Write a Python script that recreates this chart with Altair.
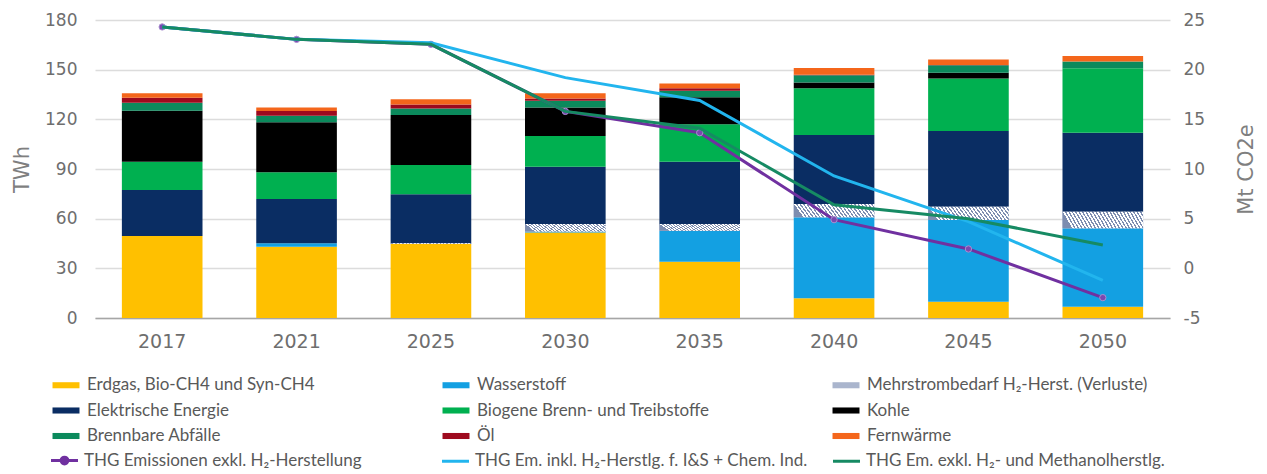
import altair as alt
import pandas as pd

years = ["2017", "2021", "2025", "2030", "2035", "2040", "2045", "2050"]

categories = [
    "Erdgas, Bio-CH4 und Syn-CH4",
    "Wasserstoff",
    "Mehrstrombedarf H₂-Herst. (Verluste)",
    "Elektrische Energie",
    "Biogene Brenn- und Treibstoffe",
    "Kohle",
    "Brennbare Abfälle",
    "Öl",
    "Fernwärme",
]
cat_colors = ["#ffc000", "#13a0e2", "#aab5cd", "#0a2d63", "#00b050",
              "#000000", "#0b8a5c", "#9e0a1e", "#f4661b"]

erdgas = [49.5, 43.1, 44.7, 51.7, 34.0, 11.9, 9.8, 6.8]
wasserstoff = [0.0, 2.0, 0.0, 0.6, 18.7, 48.9, 49.4, 47.4]
verluste = [0.0, 0.0, 0.4, 4.5, 4.1, 8.0, 8.0, 10.0]
elektrisch = [27.8, 26.8, 29.6, 34.6, 37.6, 41.7, 45.7, 47.7]
biogen = [17.1, 16.1, 17.7, 18.5, 22.7, 28.2, 31.8, 39.0]
kohle = [30.8, 30.2, 30.2, 17.3, 16.2, 3.6, 3.5, 0.0]
abfaelle = [4.8, 4.0, 4.0, 4.0, 4.0, 4.4, 4.4, 4.0]
oel = [3.0, 2.8, 2.4, 1.4, 1.4, 0.2, 0.2, 0.0]
fernwaerme = [2.7, 2.2, 3.2, 3.1, 3.0, 4.1, 3.4, 3.4]

series = [
    "THG Emissionen exkl. H₂-Herstellung",
    "THG Em. inkl. H₂-Herstlg. f. I&S + Chem. Ind.",
    "THG Em. exkl. H₂- und Methanolherstlg.",
]
series_colors = ["#7030a0", "#22b5ee", "#168a63"]
thg_exkl = [24.3, 23.05, 22.55, 15.8, 13.65, 4.9, 1.95, -2.95]
thg_inkl = [24.3, 23.05, 22.7, 19.2, 16.9, 9.3, 4.7, -1.2]
thg_methanol = [24.3, 23.05, 22.55, 15.8, 14.1, 6.4, 5.0, 2.35]

cat_values = [erdgas, wasserstoff, verluste, elektrisch, biogen, kohle,
              abfaelle, oel, fernwaerme]
rows = []
for ci, (name, vals) in enumerate(zip(categories, cat_values)):
    for y, v in zip(years, vals):
        rows.append({"Jahr": y, "Kategorie": name, "Wert": v, "order": ci})
bars_df = pd.DataFrame(rows)

lrows = []
for name, vals in zip(series, [thg_exkl, thg_inkl, thg_methanol]):
    for y, v in zip(years, vals):
        lrows.append({"Jahr": y, "Serie": name, "Wert": v})
lines_df = pd.DataFrame(lrows)

GREY = "#6e6e6e"
TICK_FONT = "DejaVu Sans"
LEG_FONT = "Lato"

x_enc = alt.X(
    "Jahr:N", sort=years,
    scale=alt.Scale(paddingInner=0.4, paddingOuter=0.2),
    axis=alt.Axis(title=None, labelAngle=0, ticks=False, domain=True,
                  domainColor="#a6a6a6", domainWidth=1.5, grid=False,
                  labelFont=TICK_FONT, labelFontSize=19, labelColor=GREY,
                  labelPadding=14),
)

left_axis = alt.Axis(
    orient="left", values=[0, 30, 60, 90, 120, 150, 180], grid=True,
    gridColor="#dcdcdc", gridWidth=1.5, domain=False, ticks=False,
    labelFont=TICK_FONT, labelFontSize=17, labelColor=GREY, labelPadding=18,
    title="TWh", titleFont=TICK_FONT, titleFontSize=21,
    titleFontWeight="normal", titleColor="#7f7f7f", titlePadding=12,
)
right_axis = alt.Axis(
    orient="right", values=[-5, 0, 5, 10, 15, 20, 25], grid=False,
    domain=False, ticks=False, labelExpr="datum.value + ''",
    labelFont=TICK_FONT, labelFontSize=17, labelColor=GREY, labelPadding=13,
    title="Mt CO2e", titleFont=TICK_FONT, titleFontSize=21, titleAngle=270,
    titleFontWeight="normal", titleColor="#7f7f7f", titlePadding=52,
)

stripe = "#7d8db0"
N = 24
stops = []
for i in range(N):
    a = i / N
    b = (i + 0.42) / N
    stops += [
        {"offset": a, "color": stripe},
        {"offset": b, "color": stripe},
        {"offset": b, "color": "#ffffff"},
        {"offset": (i + 1) / N, "color": "#ffffff"},
    ]
hatch_fill = {"gradient": "linear", "x1": 0, "y1": 0.12, "x2": 1, "y2": 0,
              "stops": stops}

bar_legend = alt.Legend(
    title=None, orient="none", legendX=-37.5, legendY=356.5, columns=3,
    direction="horizontal",
    gridAlign="all", columnPadding=74, rowPadding=7.5,
    symbolType="M-2,-0.45H2V0.45H-2Z", symbolSize=182, symbolStrokeWidth=0,
    labelFont=LEG_FONT, labelFontSize=17, labelColor="#595959",
    labelOffset=12.5, labelLimit=500, padding=0,
)
line_legend = alt.Legend(
    title=None, orient="none", legendX=-39, legendY=432, columns=3,
    direction="horizontal",
    gridAlign="all", columnPadding=19,
    symbolType={"expr": "datum.index == 0 ? 'M-2,0H2M-0.5,0A0.5,0.5,0,1,1,0.5,0A0.5,0.5,0,1,1,-0.5,0Z' : 'M-2,0H2'"},
    symbolSize=182, symbolStrokeWidth=3, symbolFillColor="#7030a0",
    labelFont=LEG_FONT, labelFontSize=17, labelColor="#595959",
    labelOffset=11, labelLimit=500, padding=0,
)

y_bar = alt.Y("y0:Q", scale=alt.Scale(domain=[0, 180], nice=False),
              axis=left_axis)

base_bars = alt.Chart(bars_df).transform_stack(
    stack="Wert", groupby=["Jahr"],
    sort=[alt.SortField("order", order="ascending")],
    as_=["y0", "y1"],
)
bars = base_bars.mark_bar().encode(
    x=x_enc, y=y_bar, y2="y1:Q",
    color=alt.Color("Kategorie:N",
                    scale=alt.Scale(domain=categories, range=cat_colors),
                    legend=bar_legend),
)
hatch = base_bars.transform_filter(
    alt.datum.Kategorie == categories[2]
).mark_bar(fill=hatch_fill).encode(x=x_enc, y=y_bar, y2="y1:Q")

y_line = alt.Y("Wert:Q", scale=alt.Scale(domain=[-5, 25], nice=False),
               axis=right_axis)
stroke_enc = alt.Stroke("Serie:N",
                        scale=alt.Scale(domain=series, range=series_colors),
                        legend=line_legend)

line_base = alt.Chart(lines_df)
line_layers = []
for s in series:
    line_layers.append(
        line_base.transform_filter(alt.datum.Serie == s)
        .mark_line(strokeWidth=3)
        .encode(x=x_enc, y=y_line, stroke=stroke_enc)
    )
points = line_base.transform_filter(alt.datum.Serie == series[0]).mark_point(
    shape="circle", filled=True, size=40, fill="#7a48b0", stroke="#a98fd0",
    strokeWidth=1, opacity=1
).encode(x=x_enc, y=y_line)

bar_layer = alt.layer(bars, hatch)
line_layer = alt.layer(line_layers[0], points, line_layers[1], line_layers[2])

chart = alt.layer(bar_layer, line_layer).resolve_scale(
    y="independent", color="independent"
).properties(
    width=1075, height=298,
    autosize=alt.AutoSizeParams(type="none"),
    padding={"left": 87, "top": 12, "right": 89, "bottom": 152},
).configure_view(stroke=None)

chart.save("out.html", embed_options={"renderer": "svg", "actions": False})
